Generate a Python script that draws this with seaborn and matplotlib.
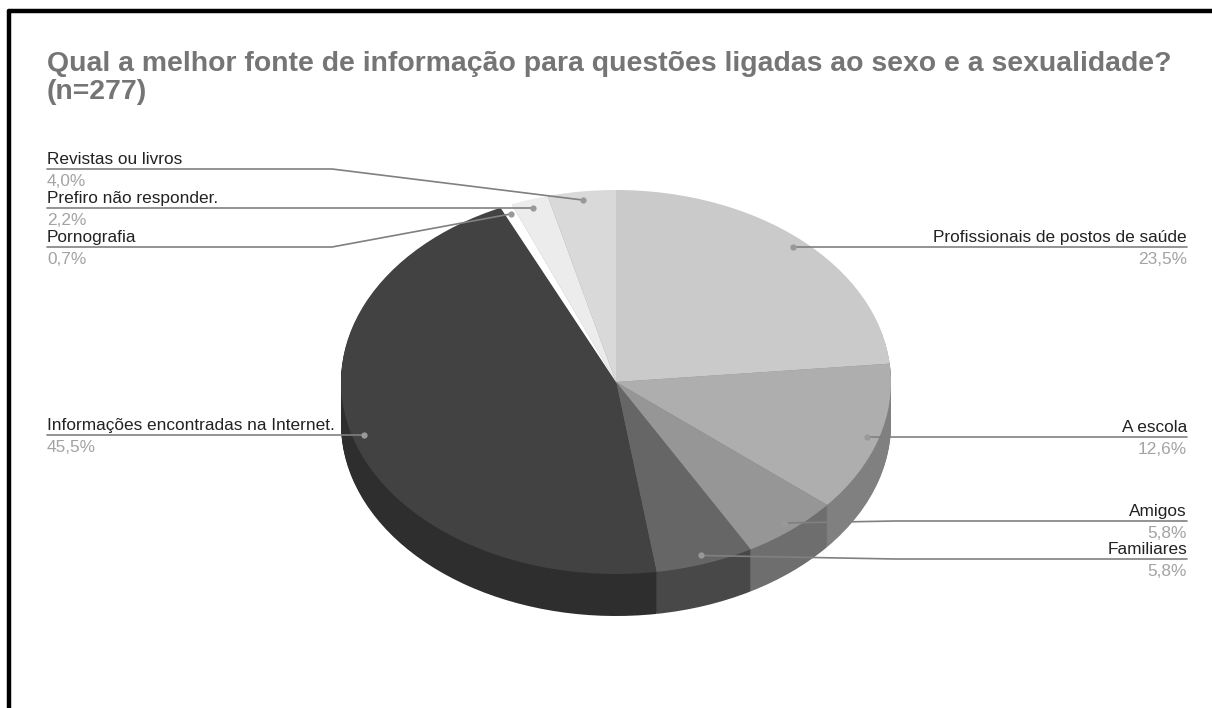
import numpy as np
import pandas as pd
import matplotlib
matplotlib.use('Agg')
import matplotlib.pyplot as plt
import seaborn as sns

# dados
categorias = ['Profissionais de postos de saúde', 'A escola', 'Amigos', 'Familiares',
              'Informações encontradas na Internet.', 'Pornografia', 'Prefiro não responder.',
              'Revistas ou livros']
valores = [23.5, 12.6, 5.8, 5.8, 45.5, 0.7, 2.2, 4.0]
rotulos = ['23,5%', '12,6%', '5,8%', '5,8%', '45,5%', '0,7%', '2,2%', '4,0%']
cores_topo = ['#cacaca', '#aeaeae', '#969696', '#666666', '#424242', '#ffffff', '#ececec', '#d9d9d9']
cores_lado = ['#8e8e8e', '#808080', '#6e6e6e', '#484848', '#2e2e2e', '#b0b0b0', '#a5a5a5', '#989898']
titulo = 'Qual a melhor fonte de informação para questões ligadas ao sexo e a sexualidade?\n(n=277)'

# linha do rotulo: altura y, lado, cotovelo (None = linha reta ate o ponto)
linha_y = [247, 437, 521, 559, 435, 247, 208, 169]
lado = ['d', 'd', 'd', 'd', 'e', 'e', 'e', 'e']
cotovelo = [None, None, 895, 895, None, 332, None, 332]

df = pd.DataFrame({'categoria': categorias, 'valor': valores, 'rotulo': rotulos})

sns.set_theme(style='white')
plt.rcParams['font.family'] = ['Liberation Sans', 'DejaVu Sans']

fig = plt.figure(figsize=(12.12, 7.08), dpi=100)

# centro e raios da pizza em pixels
cx, cy, rx, ry, prof = 616, 382, 275, 192, 42

ax = fig.add_axes([0, 0, 1, 1])
for d in range(prof, 0, -1):
    ax.pie(df['valor'], colors=sns.color_palette(cores_lado), startangle=90, counterclock=False,
           center=(0, -d / ry), radius=1, wedgeprops={'linewidth': 0})
ax.pie(df['valor'], colors=sns.color_palette(cores_topo), startangle=90, counterclock=False,
       wedgeprops={'linewidth': 0})
ax.set_aspect('auto')
ax.set_xlim(-cx / rx, (1212 - cx) / rx)
ax.set_ylim((cy - 708) / ry, cy / ry)
ax.axis('off')

# camada em pixels para moldura, titulo e rotulos
px = fig.add_axes([0, 0, 1, 1], facecolor='none')
px.set_xlim(0, 1212)
px.set_ylim(708, 0)
px.axis('off')

px.plot([9, 9], [708, 11], color='black', lw=3.2, solid_joinstyle='miter')
px.plot([9, 1212], [11, 11], color='black', lw=3.2)

px.text(47, 71, titulo.split('\n')[0], fontsize=20.4, fontweight='bold', color='#757575', va='baseline')
px.text(47, 99, titulo.split('\n')[1], fontsize=20.4, fontweight='bold', color='#757575', va='baseline')

acum = np.cumsum(df['valor']) - df['valor'] / 2
angulos = np.deg2rad(acum / df['valor'].sum() * 360)
for i, linha in df.iterrows():
    xp = cx + 0.955 * rx * np.sin(angulos[i])
    yp = cy - 0.955 * ry * np.cos(angulos[i])
    y = linha_y[i]
    if lado[i] == 'e':
        xt, ha = 47, 'left'
    else:
        xt, ha = 1187, 'right'
    if cotovelo[i] is None:
        xs, ys = [xt, xp], [y, y]
        yp = y
    else:
        xs, ys = [xt, cotovelo[i], xp], [y, y, yp]
    px.plot(xs, ys, color='#808080', lw=1.2)
    px.plot(xp, yp, 'o', color='#999999', ms=4.5, mew=0)
    px.text(xt, y - 5, linha['categoria'], fontsize=12.4, color='#222222', ha=ha, va='baseline')
    px.text(xt, y + 17, linha['rotulo'], fontsize=12.4, color='#a3a3a3', ha=ha, va='baseline')

fig.savefig('out.png', dpi=100, facecolor='white')
